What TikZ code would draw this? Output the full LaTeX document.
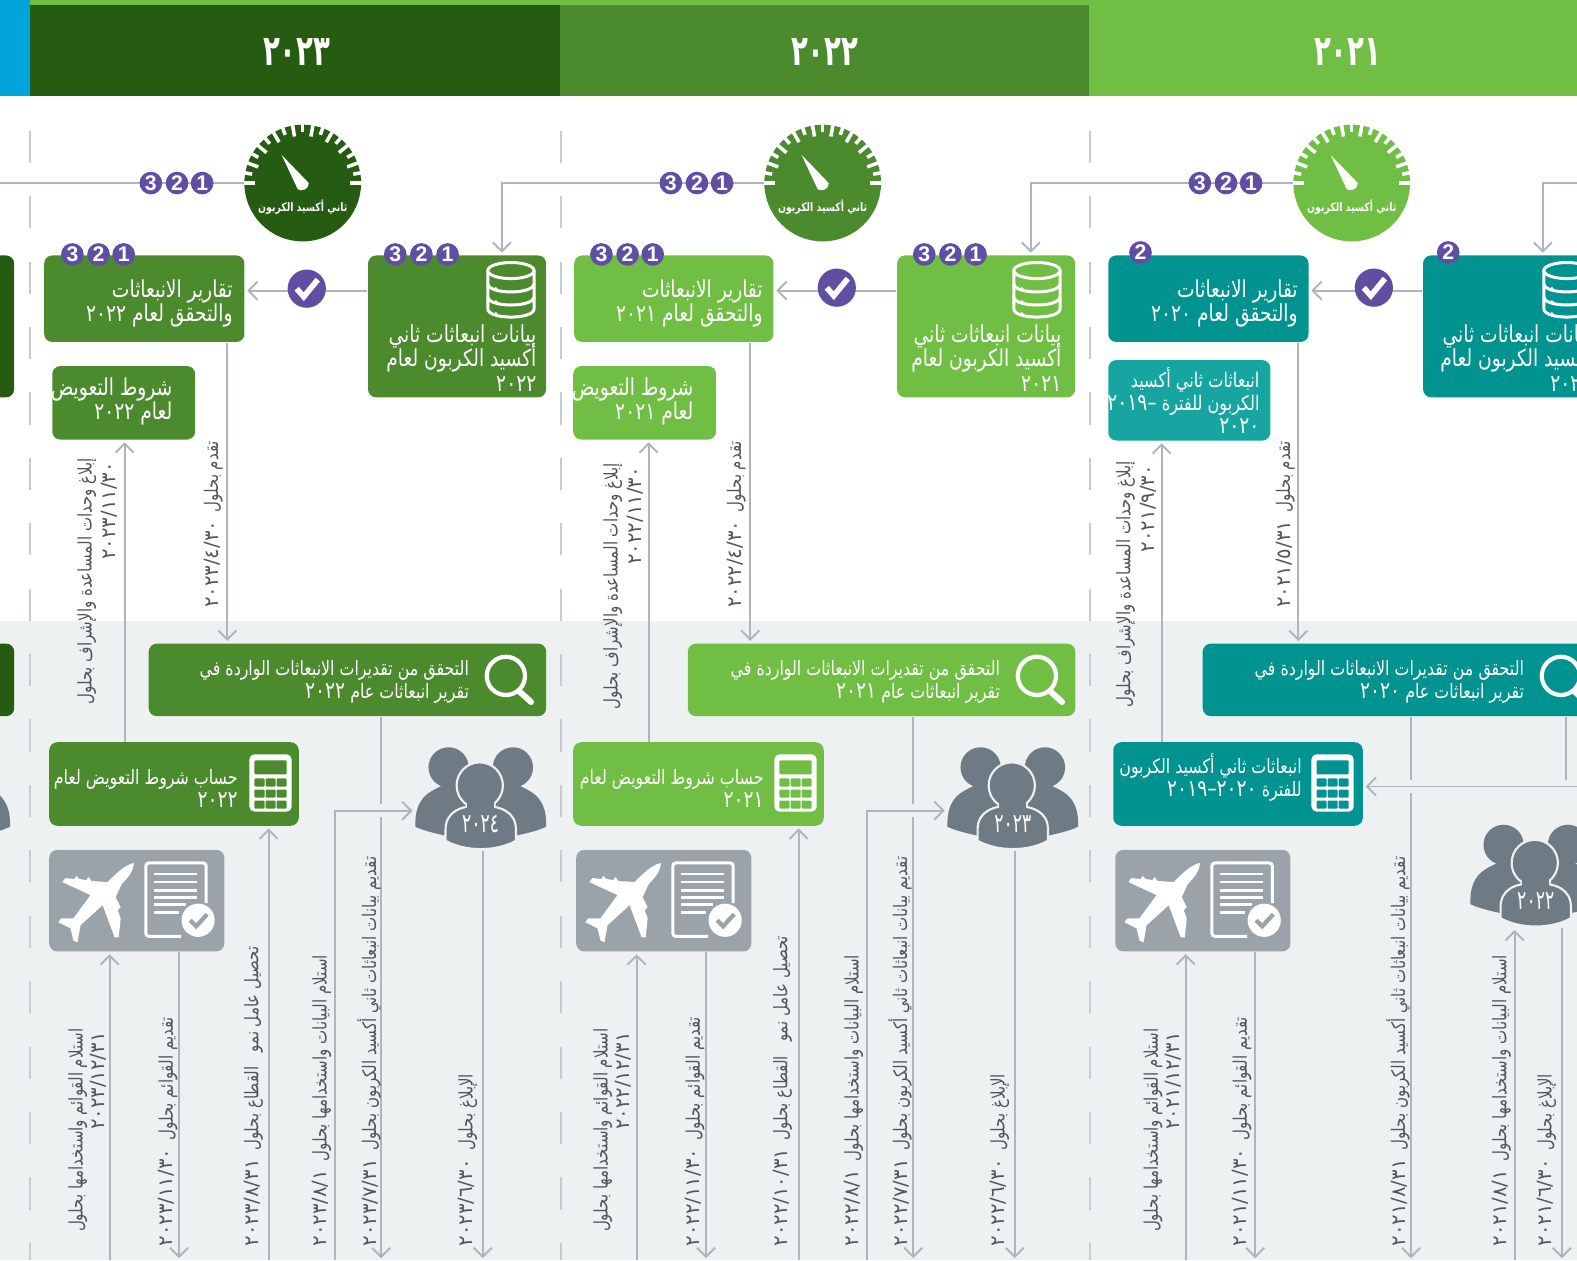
\documentclass[tikz,border=0pt]{standalone}
\usepackage{fontspec}
\usetikzlibrary{arrows.meta}
\TeXXeTstate=1
\newfontfamily\arabicfont[Script=Arabic,FakeStretch=.8]{DejaVu Sans}
\newfontfamily\arabicwide[Script=Arabic]{DejaVu Sans}
\newfontfamily\arabichead[Script=Arabic,FakeStretch=.65]{DejaVu Sans}
\newfontfamily\latinfont{Liberation Sans}
\definecolor{grnD}{HTML}{265C12}
\definecolor{grnM}{HTML}{4C8A2E}
\definecolor{grnL}{HTML}{70BF44}
\definecolor{tealD}{HTML}{00938F}
\definecolor{tealL}{HTML}{17A5A2}
\definecolor{headblue}{HTML}{00A3DA}
\definecolor{badgec}{HTML}{5F4EA1}
\definecolor{planec}{HTML}{99A3A9}
\definecolor{peoplec}{HTML}{6F7B84}
\definecolor{bandc}{HTML}{EDF1F2}
\definecolor{linec}{HTML}{AFB5BD}
\definecolor{dashc}{HTML}{C8CCD1}
\definecolor{textc}{HTML}{50565B}
\newcommand\rl[1]{\beginR #1\endR}
\newcommand\dt[1]{\beginL #1\endL}
\newcommand\bd[1]{\beginL{\fontsize{6.6}{6.5}\selectfont #1}\endL}
\newcommand\vd[1]{\hspace{.2em}\beginL{\arabicwide\fontsize{5.55}{6}\selectfont #1}\endL}
\tikzset{
  box/.style={rounded corners=.08cm,inner sep=0},
  lbl/.style={text=white,inner sep=0,align=right,anchor=east,execute at begin node={\lineskiplimit=-10pt},font=\arabicfont\fontsize{6.6}{6.9}\selectfont},
  lblS/.style={lbl,font=\arabicfont\fontsize{5.6}{6.6}\selectfont},
  lblE/.style={lbl,font=\arabicfont\fontsize{5.7}{6.6}\selectfont},
  vlbl/.style={text=textc,inner sep=0,align=right,rotate=90,execute at begin node={\lineskiplimit=-10pt},font=\arabicfont\fontsize{5.3}{6.2}\selectfont},
  badge/.style={circle,fill=badgec,text=white,inner sep=0,minimum size=.225cm,font=\latinfont\bfseries\fontsize{6}{6}\selectfont},
  flow/.style={draw=linec,line width=.55pt},
  arr/.style={flow,-{Straight Barb[length=.09cm,width=.18cm]},shorten >=.02cm},
  jump/.style={preaction={draw=bandc,line width=3.6pt,-}},
  yearlbl/.style={text=white,font=\arabichead\bfseries\fontsize{12}{12}\selectfont},
  dashline/.style={dashc,line width=.6pt,dash pattern=on .32cm off .33cm},
}
\newcommand\gaugeicon[4]{
  \node[circle,fill=#4,inner sep=0,minimum size=1.16cm] (#1) at (#2,#3) {};
  \begin{scope}[shift={(#2,#3)}]
    \foreach \a/\r in {0/47,10/51,20/47,30/51,40/47,50/51,60/47,70/51,80/47,90/51,100/47,110/51,120/47,130/51,140/47,150/51,160/47,170/51,180/47} \draw[white,line width=1pt] (-\a:\r) -- (-\a:59.5);
    \fill[white] (-21,-28) -- (6,0) .. controls (7,6) and (-2,9) .. (-5,6) -- cycle;
  \end{scope}
  \node[text=white,inner sep=0,font=\arabicfont\bfseries\fontsize{3.3}{5}\selectfont] (#1t) at (#2,#3+24) {\rl{ثاني أكسيد الكربون}};
}
\newcommand\dbicon[2]{
  \begin{scope}[shift={(#1,#2)},draw=white,line width=.85pt]
    \draw (0,-19) ellipse [x radius=23,y radius=8];
    \draw (-23,-19) -- (-23,19) .. controls (-23,30) and (23,30) .. (23,19) -- (23,-19);
    \draw (-23,-6) .. controls (-23,5) and (23,5) .. (23,-6);
    \draw (-23,7) .. controls (-23,18) and (23,18) .. (23,7);
    \fill[white] (-15,-1) circle (1.8) (-15,12) circle (1.8) (-15,24) circle (1.8);
  \end{scope}
}
\newcommand\lensicon[2]{
  \begin{scope}[shift={(#1,#2)}]
    \draw[white,line width=1.2pt] (0,0) circle (19);
    \draw[white,line width=1.7pt,line cap=round] (13,15) -- (25,26);
  \end{scope}
}
\newcommand\calcicon[3]{
  \begin{scope}[shift={(#1,#2)}]
    \fill[white,rounded corners=.05cm] (0,0) rectangle (42,57);
    \fill[#3,rounded corners=.01cm] (5,6) rectangle (37,20);
    \foreach \i in {5,16,27} \foreach \j in {24,35,46} \fill[#3,rounded corners=.01cm] (\i,\j) rectangle (\i+10,\j+8);
  \end{scope}
}
\newcommand\planeicon[2]{
  \begin{scope}[shift={(#1,#2)}]
    \fill[white] (84,13) .. controls (84,21) and (78,28) .. (72,34) -- (66,47) -- (71,57) -- (68,60) -- (71,68) -- (69,87) -- (65,87) -- (53,55) -- (31,75) -- (28,92) -- (24,90) -- (21,78) -- (9,72) -- (12,68) -- (24,68) -- (41,45) -- (13,32) -- (16,28) -- (25,29) -- (27,26) -- (30,29) -- (37,30) -- (39,27) -- (42,31) -- (58,32) .. controls (66,24) and (75,15) .. (84,13) -- cycle;
    \draw[white,line width=.85pt,rounded corners=.03cm] (156,53) -- (156,13) -- (96,13) -- (96,86) -- (131,86);
    \foreach \j in {24,32,40,47} \draw[white,line width=.8pt] (104,\j) -- (147,\j);
    \foreach \j/\k in {54/136,62/129} \draw[white,line width=.8pt] (104,\j) -- (\k,\j);
    \fill[white] (148,70) circle (16.5);
    \draw[planec,line width=1.2pt] (140,70) -- (146,76) -- (157,64);
  \end{scope}
}
\newcommand\peopleicon[4]{
  \node[inner sep=0,minimum width=1.3cm,minimum height=1cm] (#1) at (#2,#3) {};
  \begin{scope}[shift={(#2,#3)}]
    \fill[peoplec] (-32,-32) circle (20) (32,-32) circle (20);
    \fill[peoplec] (-65,27) .. controls (-66,-3) and (-50,-8) .. (-38,-14) -- (-15,-14) -- (-15,40) .. controls (-35,36) and (-55,32) .. (-65,27) -- cycle;
    \fill[peoplec] (65,27) .. controls (66,-3) and (50,-8) .. (38,-14) -- (15,-14) -- (15,40) .. controls (35,36) and (55,32) .. (65,27) -- cycle;
    \draw[bandc,line width=.6pt,fill=peoplec] (-1,-14) circle (23);
    \draw[bandc,line width=.6pt,fill=peoplec] (-35,41) -- (-35,30) .. controls (-35,12) and (-20,6) .. (-1,6) .. controls (20,6) and (35,12) .. (35,30) -- (35,41) .. controls (15,52) and (-15,52) .. (-35,41) -- cycle;
    \fill[peoplec] (-1,-14) circle (21);
    \fill[peoplec] (-14,-3) rectangle (13,12);
  \end{scope}
  \node[text=white,inner sep=0,font=\arabichead\fontsize{7.5}{7.5}\selectfont] (#1t) at (#2,#3+24) {\dt{#4}};
}
\newcommand\chkdisc[3]{
  \node[circle,fill=badgec,inner sep=0,minimum size=.38cm] (#1) at (#2,#3) {};
  \draw[white,line width=1.6pt] (#2-10,#3) -- (#2-3,#3+8) -- (#2+11,#3-9);
}

\begin{document}
\begin{tikzpicture}[x=.01cm,y=-.01cm]

\clip (0,0) rectangle (1568,1253);
\coordinate (bot) at (0,1253);
\coordinate (rim) at (1568,0);
\coordinate (lft) at (0,182);

% bands and headers
\fill[bandc] (0,617) rectangle (1568,1253);
\fill[headblue] (0,0) rectangle (30,95);
\fill[grnL] (30,0) rectangle (1568,5);
\node[fill=grnD,inner sep=0,minimum width=5.27cm,minimum height=.9cm] (h23) at (293.5,50) {};
\node[fill=grnM,inner sep=0,minimum width=5.26cm,minimum height=.9cm] (h22) at (820,50) {};
\node[fill=grnL,inner sep=0,minimum width=4.85cm,minimum height=.9cm] (h21) at (1325.5,50) {};
\node[yearlbl] (y23) at (295,52) {\dt{٢٠٢٣}};
\node[yearlbl] (y22) at (820,52) {\dt{٢٠٢٢}};
\node[yearlbl] (y21) at (1340,52) {\dt{٢٠٢١}};
\draw[dashline] (30,130) -- (30,1253);
\draw[dashline] (558,130) -- (558,1253);
\draw[dashline] (1084,130) -- (1084,1253);

% column cut off at the left
\node[box,fill=grnD,minimum width=1.77cm,minimum height=1.41cm] (dat24) at (-74.5,324.5) {};
\node[box,fill=grnD,minimum width=3.9cm,minimum height=.72cm] (ver24) at (-181,676) {};
\peopleicon{pp25}{-55}{795}{}

% 2023
\gaugeicon{g23}{301}{182}{grnD}
\node[box,fill=grnM,minimum width=1.99cm,minimum height=.86cm] (rep23) at (143.5,297) {};
\node[box,fill=grnM,minimum width=1.77cm,minimum height=1.41cm] (dat23) at (454.5,324.5) {};
\node[box,fill=grnM,minimum width=1.42cm,minimum height=.73cm] (cmp23) at (123,400.5) {};
\node[box,fill=grnM,minimum width=3.95cm,minimum height=.72cm] (ver23) at (345.5,676) {};
\node[box,fill=grnM,minimum width=2.48cm,minimum height=.83cm] (cal23) at (173,779.5) {};
\node[box,fill=planec,minimum width=1.74cm,minimum height=1.01cm] (pln23) at (136,895.5) {};
\node[lbl] (rep23t) at (232,302) {\rl{تقارير الانبعاثات}\\\rl{والتحقق لعام \dt{٢٠٢٢}}};
\node[lbl] (dat23t) at (534,356) {\rl{بيانات انبعاثات ثاني}\\\rl{أكسيد الكربون لعام}\\\rl{\dt{٢٠٢٢}}};
\node[lbl] (cmp23t) at (172,399) {\rl{شروط التعويض}\\\rl{لعام \dt{٢٠٢٢}}};
\node[lblS] (ver23t) at (467,678) {\rl{التحقق من تقديرات الانبعاثات الواردة في}\\\rl{تقرير انبعاثات عام \bd{٢٠٢٢}}};
\node[lblS] (cal23t) at (237,784) {\rl{حساب شروط التعويض لعام}\\\rl{\bd{٢٠٢٢}}};
\dbicon{508}{288}
\lensicon{503}{672}
\calcicon{248}{750}{grnM}
\planeicon{49}{845}
\peopleicon{pp24}{478}{795}{٢٠٢٤}

% 2022
\gaugeicon{g22}{818}{182}{grnM}
\node[box,fill=grnL,minimum width=1.98cm,minimum height=.86cm] (rep22) at (670,297) {};
\node[box,fill=grnL,minimum width=1.77cm,minimum height=1.41cm] (dat22) at (980.5,324.5) {};
\node[box,fill=grnL,minimum width=1.42cm,minimum height=.73cm] (cmp22) at (641,400.5) {};
\node[box,fill=grnL,minimum width=3.85cm,minimum height=.72cm] (ver22) at (876.5,676) {};
\node[box,fill=grnL,minimum width=2.49cm,minimum height=.83cm] (cal22) at (694.5,779.5) {};
\node[box,fill=planec,minimum width=1.74cm,minimum height=1.01cm] (pln22) at (660,895.5) {};
\node[lbl] (rep22t) at (759,302) {\rl{تقارير الانبعاثات}\\\rl{والتحقق لعام \dt{٢٠٢١}}};
\node[lbl] (dat22t) at (1056,356) {\rl{بيانات انبعاثات ثاني}\\\rl{أكسيد الكربون لعام}\\\rl{\dt{٢٠٢١}}};
\node[lbl] (cmp22t) at (690,399) {\rl{شروط التعويض}\\\rl{لعام \dt{٢٠٢١}}};
\node[lblS] (ver22t) at (995,678) {\rl{التحقق من تقديرات الانبعاثات الواردة في}\\\rl{تقرير انبعاثات عام \bd{٢٠٢١}}};
\node[lblS] (cal22t) at (760,784) {\rl{حساب شروط التعويض لعام}\\\rl{\bd{٢٠٢١}}};
\dbicon{1031}{288}
\lensicon{1031}{672}
\calcicon{770}{750}{grnL}
\planeicon{573}{845}
\peopleicon{pp23}{1007}{795}{٢٠٢٣}

% 2021
\gaugeicon{g21}{1344}{182}{grnL}
\node[box,fill=tealD,minimum width=1.99cm,minimum height=.86cm] (rep21) at (1201.5,297) {};
\node[box,fill=tealD,minimum width=1.75cm,minimum height=1.41cm] (dat21) at (1502.5,324.5) {};
\node[box,fill=tealL,minimum width=1.61cm,minimum height=.8cm] (ext21) at (1182.5,398) {};
\node[box,fill=tealD,minimum width=4.04cm,minimum height=.72cm] (ver21) at (1398,676) {};
\node[box,fill=tealD,minimum width=2.48cm,minimum height=.83cm] (cal21) at (1231,779.5) {};
\node[box,fill=planec,minimum width=1.74cm,minimum height=1.01cm] (pln21) at (1196,895.5) {};
\node[lbl] (rep21t) at (1291,302) {\rl{تقارير الانبعاثات}\\\rl{والتحقق لعام \dt{٢٠٢٠}}};
\node[lbl] (dat21t) at (1582,356) {\rl{بيانات انبعاثات ثاني}\\\rl{أكسيد الكربون لعام}\\\rl{\dt{٢٠٢٠}}};
\node[lblE] (ext21t) at (1253,398) {\rl{انبعاثات ثاني أكسيد}\\\rl{الكربون للفترة \bd{–٢٠١٩}}\\\rl{\bd{٢٠٢٠}}};
\node[lblS] (ver21t) at (1516,678) {\rl{التحقق من تقديرات الانبعاثات الواردة في}\\\rl{تقرير انبعاثات عام \bd{٢٠٢٠}}};
\node[lblS] (cal21t) at (1295,773) {\rl{انبعاثات ثاني أكسيد الكربون}\\\rl{للفترة \bd{٢٠٢٠–٢٠١٩}}};
\dbicon{1558}{288}
\lensicon{1552}{672}
\calcicon{1304}{750}{tealD}
\planeicon{1109}{845}
\peopleicon{pp22}{1527}{872}{٢٠٢٢}

% connectors 2023
\draw[flow] (lft) -- (g23.west);
\draw[arr] (g22.west) -| (dat23.north -| 499,0);
\draw[arr] (dat23.west |- 0,289) -- (rep23.east |- 0,289);
\draw[arr] (rep23.south -| 226,0) -- (ver23.north -| 226,0);
\draw[arr] (cal23.north -| 124,0) -- (cmp23.south -| 124,0);
\draw[arr] (ver23.south -| 379,0) -- (bot -| 379,0);
\draw[arr,jump] (bot -| 333,0) |- (pp24.west |- 0,806);
\draw[arr] (bot -| 267,0) -- (cal23.south -| 267,0);
\draw[arr] (pln23.south -| 178,0) -- (bot -| 178,0);
\draw[arr] (bot -| 109,0) -- (pln23.south -| 109,0);
\draw[arr] (pp24.south -| 480,0) -- (bot -| 480,0);

% connectors 2022
\draw[arr] (g21.west) -| (dat22.north -| 1025,0);
\draw[arr] (dat22.west |- 0,289) -- (rep22.east |- 0,289);
\draw[arr] (rep22.south -| 746,0) -- (ver22.north -| 746,0);
\draw[arr] (cal22.north -| 645,0) -- (cmp22.south -| 645,0);
\draw[arr] (ver22.south -| 908,0) -- (bot -| 908,0);
\draw[arr,jump] (bot -| 862,0) |- (pp23.west |- 0,806);
\draw[arr] (bot -| 794,0) -- (cal22.south -| 794,0);
\draw[arr] (pln22.south -| 702,0) -- (bot -| 702,0);
\draw[arr] (bot -| 633,0) -- (pln22.south -| 633,0);
\draw[arr] (pp23.south -| 1009,0) -- (bot -| 1009,0);

% connectors 2021
\draw[arr] (rim |- 0,182) -| (dat21.north -| 1534,0);
\draw[arr] (dat21.west |- 0,289) -- (rep21.east |- 0,289);
\draw[arr] (rep21.south -| 1291,0) -- (ver21.north -| 1291,0);
\draw[arr] (cal21.north -| 1155,0) -- (ext21.south -| 1155,0);
\draw[arr] (ver21.south -| 1403,0) -- (bot -| 1403,0);
\draw[flow] (ver21.south -| 1557,0) -- (1557,782);
\draw[arr,jump] (rim |- 0,782) -- (cal21.east |- 0,782);
\draw[arr] (bot -| 1506,0) -- (pp22.south -| 1506,0);
\draw[arr] (pp22.south -| 1553,0) -- (bot -| 1553,0);
\draw[arr] (pln21.south -| 1248,0) -- (bot -| 1248,0);
\draw[arr] (bot -| 1179,0) -- (pln21.south -| 1179,0);

% badges and ticks
\foreach \n/\x/\y/\t in {a1/201/182/1,a2/176/182/2,a3/150/182/3,b1/123/253/1,b2/98/253/2,b3/72/253/3,c1/445/253/1,c2/419/253/2,c3/393/253/3,d1/718/182/1,d2/693/182/2,d3/667/182/3,e1/649/253/1,e2/624/253/2,e3/598/253/3,f1/970/253/1,f2/945/253/2,f3/919/253/3,g1/1244/182/1,g2/1219/182/2,g3/1193/182/3,h2/1134/251/2,i2/1440/251/2}
  \node[badge] (bd\n) at (\x,\y) {\t};
\chkdisc{chk23}{305}{287}
\chkdisc{chk22}{832}{286}
\chkdisc{chk21}{1366}{286}

% labels along the connectors 2023
\node[vlbl,anchor=west] (l23a) at (212,605) {\rl{تقدم بحلول \vd{٢٠٢٣/٤/٣٠}}};
\node[vlbl,anchor=east] (l23b) at (97,455) {\rl{إبلاغ وحدات المساعدة والإشراف بحلول}\\[.7pt]\rl{\vd{٢٠٢٣/١١/٣٠}}};
\node[vlbl,anchor=west] (l23c) at (367,1240) {\rl{تقديم بيانات انبعاثات ثاني أكسيد الكربون بحلول \vd{٢٠٢٣/٧/٣١}}};
\node[vlbl,anchor=west] (l23d) at (320,1240) {\rl{استلام البيانات واستخدامها بحلول \vd{٢٠٢٣/٨/١}}};
\node[vlbl,anchor=west] (l23e) at (252,1240) {\rl{تحصيل عامل نمو \hspace{.5em}القطاع بحلول \vd{٢٠٢٣/٨/٣١}}};
\node[vlbl,anchor=west] (l23f) at (167,1240) {\rl{تقديم القوائم بحلول \vd{٢٠٢٣/١١/٣٠}}};
\node[vlbl,anchor=east] (l23g) at (87,1022) {\rl{استلام القوائم واستخدامها بحلول}\\\rl{\vd{٢٠٢٣/١٢/٣١}}};
\node[vlbl,anchor=west] (l23h) at (465,1240) {\rl{الإبلاغ بحلول \vd{٢٠٢٣/٦/٣٠}}};

% labels along the connectors 2022
\node[vlbl,anchor=west] (l22a) at (732,605) {\rl{تقدم بحلول \vd{٢٠٢٢/٤/٣٠}}};
\node[vlbl,anchor=east] (l22b) at (620,460) {\rl{إبلاغ وحدات المساعدة والإشراف بحلول}\\[.7pt]\rl{\vd{٢٠٢٢/١١/٣٠}}};
\node[vlbl,anchor=west] (l22c) at (895,1240) {\rl{تقديم بيانات انبعاثات ثاني أكسيد الكربون بحلول \vd{٢٠٢٢/٧/٣١}}};
\node[vlbl,anchor=west] (l22d) at (849,1240) {\rl{استلام البيانات واستخدامها بحلول \vd{٢٠٢٢/٨/١}}};
\node[vlbl,anchor=west] (l22e) at (778,1240) {\rl{تحصيل عامل نمو \hspace{.5em}القطاع بحلول \vd{٢٠٢٢/١٠/٣١}}};
\node[vlbl,anchor=west] (l22f) at (691,1240) {\rl{تقديم القوائم بحلول \vd{٢٠٢٢/١١/٣٠}}};
\node[vlbl,anchor=east] (l22g) at (609,1022) {\rl{استلام القوائم واستخدامها بحلول}\\\rl{\vd{٢٠٢٢/١٢/٣١}}};
\node[vlbl,anchor=west] (l22h) at (994,1240) {\rl{الإبلاغ بحلول \vd{٢٠٢٢/٦/٣٠}}};

% labels along the connectors 2021
\node[vlbl,anchor=west] (l21a) at (1278,605) {\rl{تقدم بحلول \vd{٢٠٢١/٥/٣١}}};
\node[vlbl,anchor=east] (l21b) at (1130,458) {\rl{إبلاغ وحدات المساعدة والإشراف بحلول}\\[.7pt]\rl{\vd{٢٠٢١/٩/٣٠}}};
\node[vlbl,anchor=west] (l21c) at (1390,1240) {\rl{تقديم بيانات انبعاثات ثاني أكسيد الكربون بحلول \vd{٢٠٢١/٨/٣١}}};
\node[vlbl,anchor=west] (l21d) at (1493,1240) {\rl{استلام البيانات واستخدامها بحلول \vd{٢٠٢١/٨/١}}};
\node[vlbl,anchor=west] (l21f) at (1235,1240) {\rl{تقديم القوائم بحلول \vd{٢٠٢١/١١/٣٠}}};
\node[vlbl,anchor=east] (l21g) at (1156,1022) {\rl{استلام القوائم واستخدامها بحلول}\\\rl{\vd{٢٠٢١/١٢/٣١}}};
\node[vlbl,anchor=west] (l21h) at (1538,1240) {\rl{الإبلاغ بحلول \vd{٢٠٢١/٦/٣٠}}};

\end{tikzpicture}
\end{document}
